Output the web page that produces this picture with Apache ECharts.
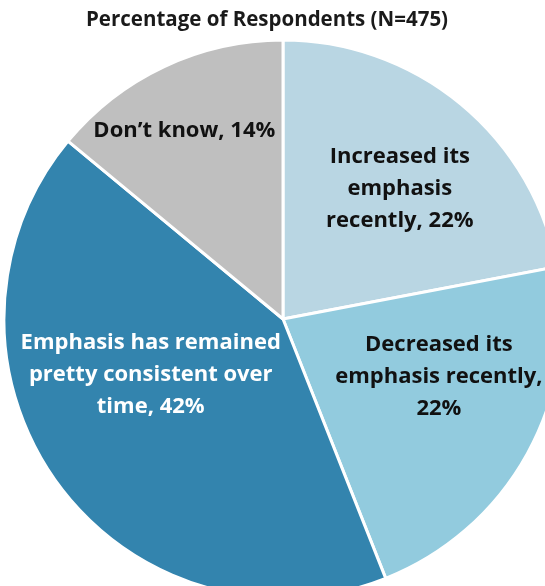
<!DOCTYPE html>
<html>
<head>
<meta charset="utf-8">
<script src="https://cdn.jsdelivr.net/npm/echarts@6/dist/echarts.min.js"></script>
<style>
html,body{margin:0;padding:0;background:#fff;}
#chart{width:545px;height:586px;}
</style>
</head>
<body>
<div id="chart"></div>
<script>
const titleText = "Percentage of Respondents (N=475)";
const categories = [
  "Increased its\nemphasis\nrecently",
  "Decreased its\nemphasis recently,\n",
  "Emphasis has remained\npretty consistent over\ntime",
  "Don\u2019t know"
];
const values = [22, 22, 42, 14];

const colors = ["#b9d6e3", "#92cbde", "#3384ae", "#bfbfbf"];
const labelColors = ["#111111", "#111111", "#ffffff", "#111111"];
const labelOffsets = [[26, -20], [31, -11], [-17, -28], [-38, -59]];

const data = categories.map((c, i) => ({
  name: c,
  value: values[i],
  itemStyle: { color: colors[i] },
  label: { color: labelColors[i], offset: labelOffsets[i] }
}));

const chart = echarts.init(document.getElementById('chart'), null, { renderer: 'canvas' });
chart.setOption({
  animation: false,
  title: {
    text: titleText,
    left: 81,
    top: 5,
    textStyle: { fontFamily: 'Open Sans', fontWeight: 'bold', fontSize: 20.5, color: '#1a1a1a' }
  },
  series: [{
    type: 'pie',
    center: [283, 319],
    radius: [0, 279],
    startAngle: 90,
    clockwise: true,
    data: data,
    itemStyle: { borderColor: '#ffffff', borderWidth: 3 },
    label: {
      show: true,
      position: 'inside',
      fontFamily: 'Open Sans',
      fontWeight: 'bold',
      fontSize: 22,
      lineHeight: 32,
      align: 'center',
      formatter: p => p.name.endsWith('\n') ? p.name + p.value + '%' : p.name + ', ' + p.value + '%'
    },
    labelLine: { show: false },
    emphasis: { disabled: true }
  }]
});
</script>
</body>
</html>
